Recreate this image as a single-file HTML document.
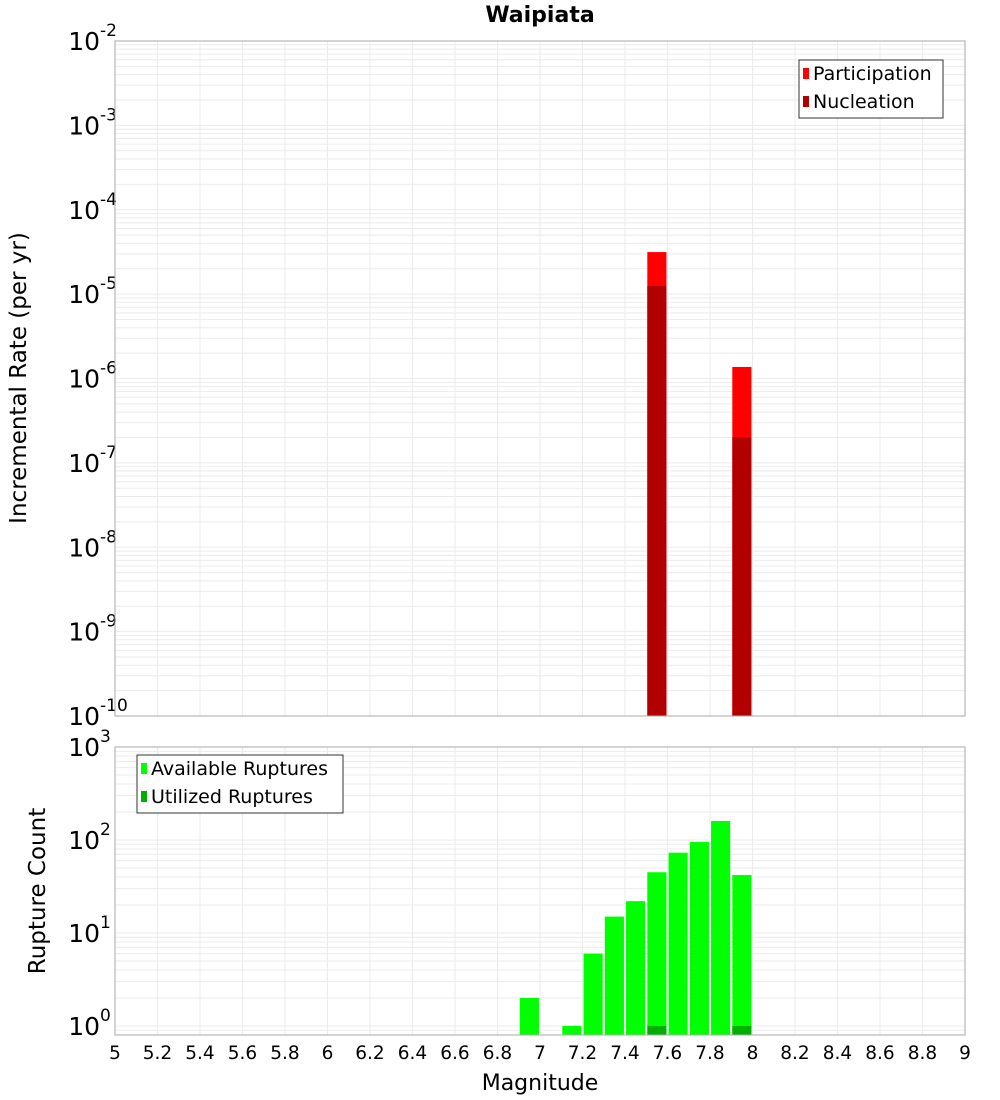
<!DOCTYPE html>
<html><head><meta charset="utf-8"><style>
body{margin:0;background:#fff;}
svg{display:block;font-family:"DejaVu Sans","Liberation Sans",sans-serif;}
</style></head><body>
<svg id="chart" width="1000" height="1100" viewBox="0 0 1000 1100" xmlns="http://www.w3.org/2000/svg">
<text x="540" y="22" text-anchor="middle" font-size="22" font-weight="bold">Waipiata</text>
<g id="top"></g><g id="bot"></g>
<text transform="translate(26,378) rotate(-90)" text-anchor="middle" font-size="23">Incremental Rate (per yr)</text>
<text transform="translate(45,891) rotate(-90)" text-anchor="middle" font-size="23">Rupture Count</text>
<text x="540" y="1090" text-anchor="middle" font-size="22">Magnitude</text>
</svg>
<script>
// data
const topMags = [7.55, 7.95];
const participation = [3.15e-5, 1.37e-6];
const nucleation = [1.25e-5, 2.0e-7];
const botMags = [6.95, 7.15, 7.25, 7.35, 7.45, 7.55, 7.65, 7.75, 7.85, 7.95];
const available = [2, 1, 6, 15, 22, 45, 73, 95, 160, 42];
const utilizedMags = [7.55, 7.95];
const utilized = [1, 1];
const xTicks = [5,5.2,5.4,5.6,5.8,6,6.2,6.4,6.6,6.8,7,7.2,7.4,7.6,7.8,8,8.2,8.4,8.6,8.8,9];
const topExps = [-10,-9,-8,-7,-6,-5,-4,-3,-2];
const botExps = [0,1,2,3];

const NS="http://www.w3.org/2000/svg";
const L=115,R=965;
const xs=m=>L+(m-5)/4*(R-L);
function mk(p,t,a){const e=document.createElementNS(NS,t);for(const k in a)e.setAttribute(k,a[k]);p.appendChild(e);return e;}
function panel(g,top,bot,lmin,lmax,exps,name){
  const ys=v=>bot-(Math.log10(v)-lmin)/(lmax-lmin)*(bot-top);
  for(let d=Math.floor(lmin);d<lmax;d++)for(let k=1;k<10;k++){
    const v=k*Math.pow(10,d);const lv=Math.log10(v);if(lv<lmin||lv>lmax)continue;
    const y=ys(v);
    const ln=mk(g,'line',{x1:L,x2:R,y1:y,y2:y,stroke:'#ebebeb','stroke-width':1});
    
    
  }
  xTicks.forEach(t=>{
    const ln=mk(g,'line',{x1:xs(t),x2:xs(t),y1:top,y2:bot,stroke:'#ebebeb','stroke-width':1});
    
    
  });
  exps.forEach(e=>{
    const y=ys(Math.pow(10,e));
    const t=mk(g,'text',{x:100,y:y+9,'text-anchor':'end','font-size':25});
    t.textContent='10';
    
    
    const s=mk(g,'text',{x:100,y:y-5,'font-size':17});
    s.textContent=String(e);
    
    
  });
  return ys;
}
const gt=document.getElementById('top'),gb=document.getElementById('bot');
const yt=panel(gt,41,716,-10,-2,topExps,'top');
const yb=panel(gb,747,1035,-0.097,3,botExps,'bottom');
const bw=0.09*(R-L)/4;
function bar(g,m,v,ys,base,fill,name){
  const y=ys(v);
  const r=mk(g,'rect',{x:xs(m)-bw/2,y:y,width:bw,height:base-y,fill:fill});
  
  
}
topMags.forEach((m,i)=>bar(gt,m,participation[i],yt,716,'#ff0000','participation-bar'));
topMags.forEach((m,i)=>bar(gt,m,nucleation[i],yt,716,'#b20000','nucleation-bar'));
botMags.forEach((m,i)=>bar(gb,m,available[i],yb,1035,'#00ff00','available-ruptures-bar'));
utilizedMags.forEach((m,i)=>bar(gb,m,utilized[i],yb,1035,'#00b000','utilized-ruptures-bar'));
[[gt,41,716,'top-plot-frame'],[gb,747,1035,'bottom-plot-frame']].forEach(([g,t,b,n])=>{
  const r=mk(g,'rect',{x:L,y:t,width:R-L,height:b-t,fill:'none',stroke:'#aaa','stroke-width':1});
  
  
});
xTicks.forEach(t=>{
  const tx=mk(gb,'text',{x:xs(t),y:1059,'text-anchor':'middle','font-size':18.5});
  tx.textContent=String(t);
  
  
});
function legend(g,x,y,w,items,name){
  const r=mk(g,'rect',{x:x,y:y,width:w,height:58,fill:'#fff',stroke:'#333','stroke-width':1});
  
  
  items.forEach((it,i)=>{
    const sw=mk(g,'rect',{x:x+4,y:y+8+i*28,width:6,height:11,fill:it[1]});
    
    
    const t=mk(g,'text',{x:x+14,y:y+20+i*28,'font-size':19});
    t.textContent=it[0];
    
    
  });
}
legend(gt,799,60,144,[['Participation','#ff0000'],['Nucleation','#b20000']],'top-legend');
legend(gb,137,755,206,[['Available Ruptures','#00ff00'],['Utilized Ruptures','#00b000']],'bottom-legend');
</script>
</body></html>
